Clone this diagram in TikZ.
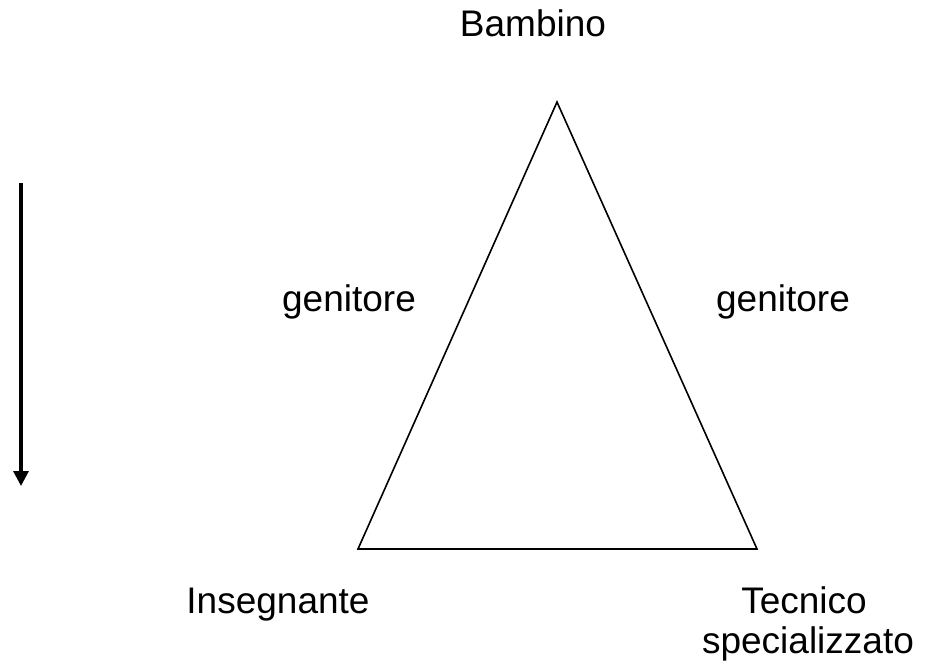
\documentclass[tikz,border=0pt]{standalone}
\usepackage{fontspec}
\setmainfont{Liberation Sans}
\usetikzlibrary{arrows.meta}
\begin{document}
\begin{tikzpicture}[x=1pt,y=-1pt,
  lbl/.style={inner sep=0pt,anchor=base,font=\fontsize{37}{41}\selectfont},
  tri/.style={draw,line width=1.6pt,line join=miter},
  arr/.style={line width=3.2pt,-{Triangle[width=15pt,length=15pt]}}]
\useasboundingbox (0,0) rectangle (930,666);
\coordinate (A) at (557,102);
\coordinate (B) at (358,549);
\coordinate (C) at (757,549);
\draw[tri] (A) -- (B) -- (C) -- cycle;
\coordinate (s) at (21,183);
\coordinate (e) at (21,486);
\draw[arr] (s) -- (e);
\node[lbl] (bam) at (533,37) {Bambino};
\node[lbl] (gl) at (349,311) {genitore};
\node[lbl] (gr) at (783,311) {genitore};
\node[lbl] (ins) at (278,613) {Insegnante};
\node[lbl] (tec) at (804,613) {Tecnico};
\node[lbl] (spe) at (808,653) {specializzato};
\end{tikzpicture}
\end{document}
